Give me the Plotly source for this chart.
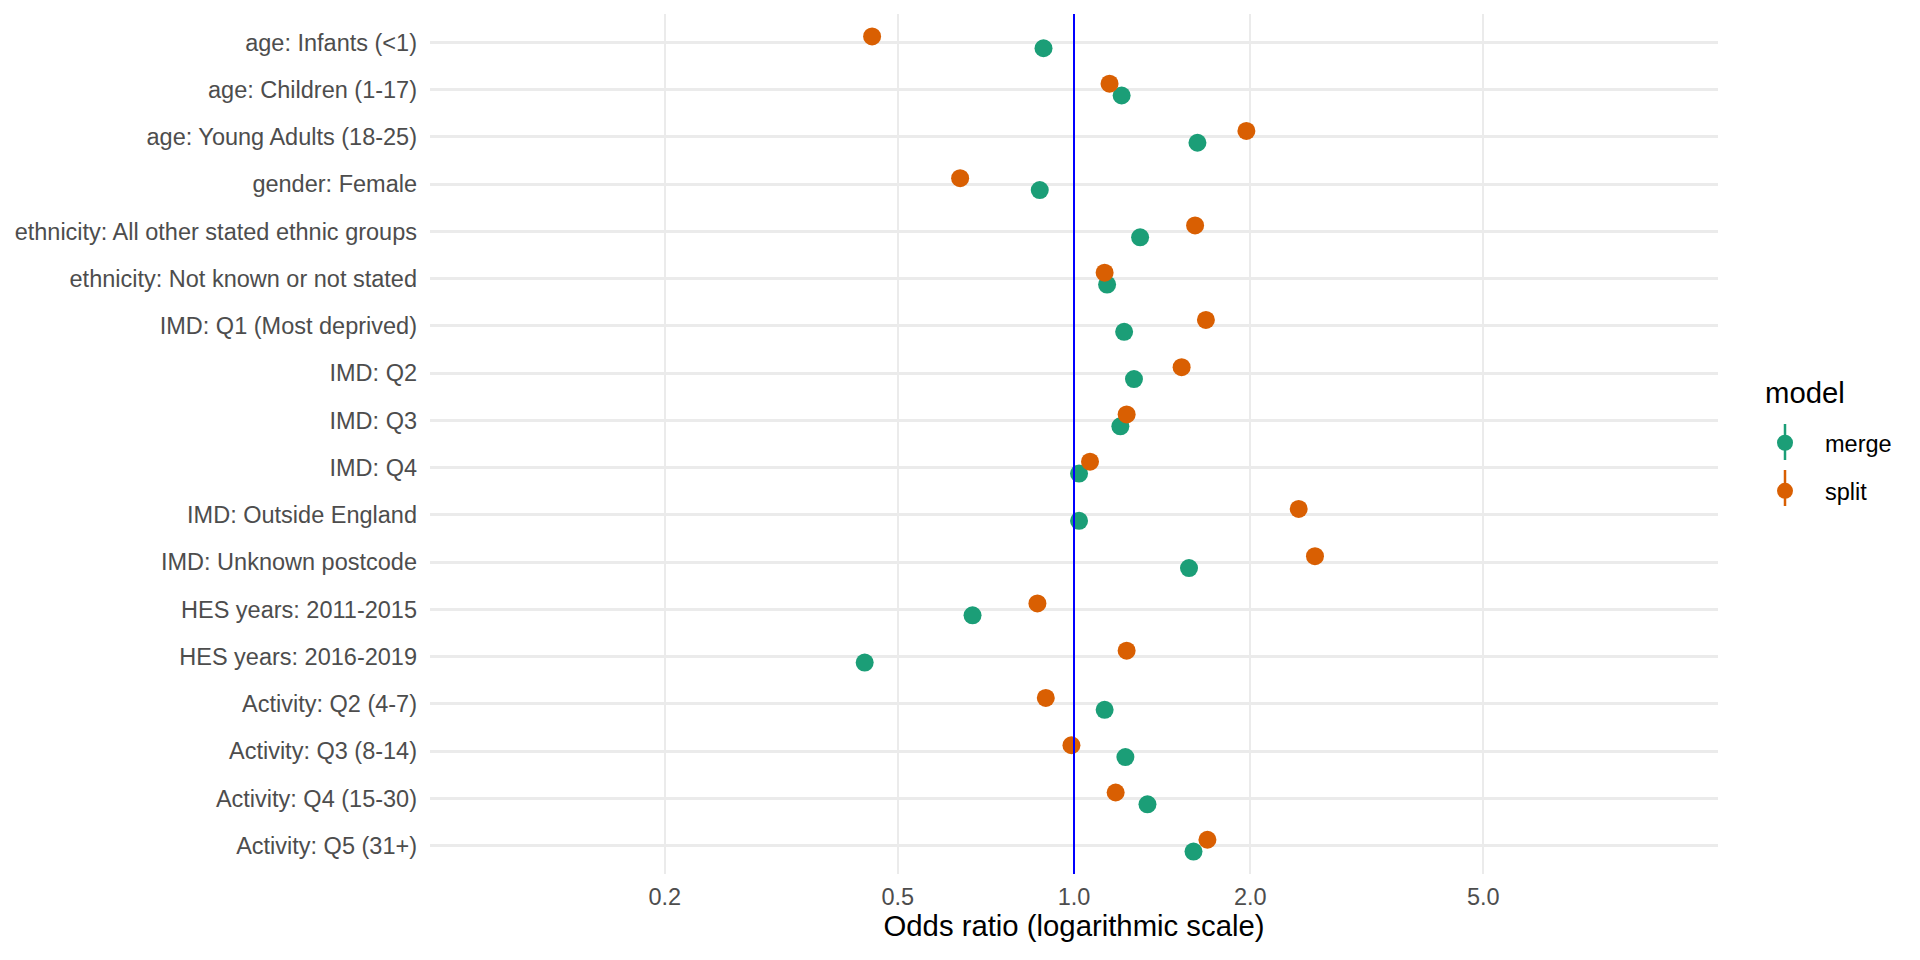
import plotly.graph_objects as go

categories = [
    "age: Infants (<1)",
    "age: Children (1-17)",
    "age: Young Adults (18-25)",
    "gender: Female",
    "ethnicity: All other stated ethnic groups",
    "ethnicity: Not known or not stated",
    "IMD: Q1 (Most deprived)",
    "IMD: Q2",
    "IMD: Q3",
    "IMD: Q4",
    "IMD: Outside England",
    "IMD: Unknown postcode",
    "HES years: 2011-2015",
    "HES years: 2016-2019",
    "Activity: Q2 (4-7)",
    "Activity: Q3 (8-14)",
    "Activity: Q4 (15-30)",
    "Activity: Q5 (31+)",
]

merge_or = [0.887, 1.206, 1.625, 0.874, 1.297, 1.139, 1.218, 1.266, 1.20,
            1.02, 1.02, 1.572, 0.671, 0.439, 1.128, 1.224, 1.335, 1.60]
split_or = [0.452, 1.15, 1.97, 0.639, 1.61, 1.128, 1.68, 1.527, 1.23,
            1.065, 2.42, 2.58, 0.866, 1.23, 0.895, 0.99, 1.178, 1.69]

x_ticks = [0.2, 0.5, 1.0, 2.0, 5.0]
x_ticklabels = ["0.2", "0.5", "1.0", "2.0", "5.0"]

models = ["merge", "split"]
colors = {"merge": "#1B9E77", "split": "#D95F02"}
dodge = {"merge": 0.125, "split": -0.125}
values = {"merge": merge_or, "split": split_or}

FONT = "Liberation Sans, Arial, sans-serif"

fig = go.Figure()
for m in models:
    fig.add_trace(go.Scatter(
        x=values[m],
        y=[k + dodge[m] for k in range(len(categories))],
        mode="markers",
        name=m,
        legendgroup=m,
        marker=dict(color=colors[m], size=18, line=dict(width=0)),
        hovertext=categories,
    ))

fig.add_shape(type="line", xref="x", yref="paper", x0=1, x1=1, y0=0, y1=1,
              line=dict(color="#0000FF", width=2), layer="above")

# page has an 8px body margin, so the figure is slightly smaller than the window
W, H = 1912, 952
ml, mr, mt, mb = 422, 202, 6, 86
pw, ph = W - ml - mr, H - mt - mb


def px_x(x):
    return (x - ml) / pw


def px_y(y):
    return 1 - (y - mt) / ph


# legend "pointrange" sticks (figure pixel coords)
leg_left = 1737
leg_item_w = 70
leg_sym_x = leg_left + (leg_item_w + 10) / 2
leg_item_y = {"merge": 434, "split": 480}
for m in models:
    fig.add_shape(type="line", xref="paper", yref="paper",
                  x0=px_x(leg_sym_x), x1=px_x(leg_sym_x),
                  y0=px_y(leg_item_y[m] - 18), y1=px_y(leg_item_y[m] + 18),
                  line=dict(color=colors[m], width=2.5), layer="above")

fig.add_annotation(text="model", xref="paper", yref="paper",
                   x=px_x(1755), y=px_y(384), xanchor="left", yanchor="middle",
                   showarrow=False, font=dict(size=29.3, color="black", family=FONT))

fig.update_layout(
    width=W, height=H,
    margin=dict(l=ml, r=mr, t=mt, b=mb, autoexpand=False),
    paper_bgcolor="white", plot_bgcolor="white",
    font=dict(family=FONT, size=23.5, color="#4D4D4D"),
    showlegend=True,
    legend=dict(
        font=dict(size=23.5, color="black"),
        x=px_x(leg_left), xanchor="left", y=px_y(413), yanchor="top",
        bgcolor="rgba(0,0,0,0)", tracegroupgap=14.5, itemwidth=leg_item_w,
    ),
    xaxis=dict(
        type="log", range=[-1.1, 1.1],
        tickvals=x_ticks, ticktext=x_ticklabels,
        showgrid=True, gridcolor="#EBEBEB", gridwidth=2,
        zeroline=False, showline=False, ticks="",
        tickfont=dict(size=23.5, color="#4D4D4D"),
        title=dict(text="Odds ratio (logarithmic scale)",
                   font=dict(size=29.3, color="black"), standoff=6),
        ticklabelstandoff=6,
    ),
    yaxis=dict(
        range=[len(categories) - 1 + 0.6, -0.6],
        tickvals=list(range(len(categories))), ticktext=categories,
        showgrid=True, gridcolor="#EBEBEB", gridwidth=2.5,
        zeroline=False, showline=False, ticks="",
        tickfont=dict(size=23.5, color="#4D4D4D"),
        ticklabelstandoff=12,
    ),
)

fig.write_html("out.html")
